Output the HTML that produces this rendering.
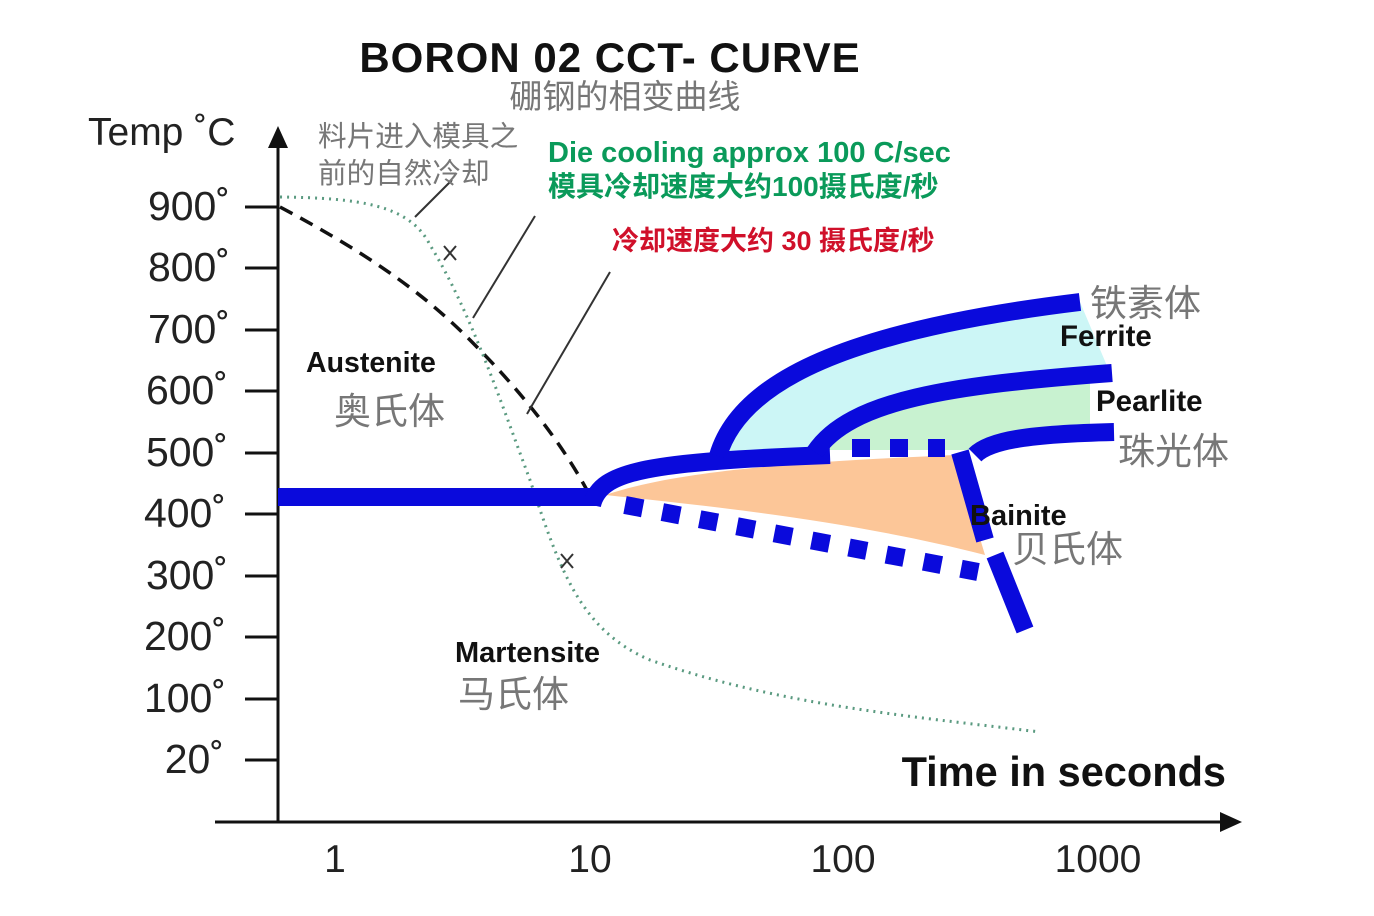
<!DOCTYPE html>
<html><head><meta charset="utf-8"><style>
html,body{margin:0;padding:0;background:#fff;}
svg{display:block;}
text{font-family:"Liberation Sans","Noto Sans CJK SC",sans-serif;}
</style></head><body>
<svg width="1374" height="916" viewBox="0 0 1374 916" xmlns="http://www.w3.org/2000/svg">
<rect width="1374" height="916" fill="#fff"/>
<text x="610" y="72" font-size="42" font-weight="bold" text-anchor="middle" fill="#111" letter-spacing="1">BORON 02 CCT- CURVE</text>
<text x="625" y="108" font-size="33" text-anchor="middle" fill="#777">硼钢的相变曲线</text>
<text x="88" y="145" font-size="39" fill="#222">Temp ˚C</text>
<path d="M725,452 C745,380 850,330 1080,302 L1110,373 C950,385 850,405 815,450 Z" fill="#ccf6f6"/>
<path d="M820,450 C860,405 950,388 1090,375 L1090,432 C1030,432 990,438 970,450 Z" fill="#c8f2d0"/>
<path d="M605,495 C680,470 800,462 955,455 L985,555 C850,520 700,505 605,495 Z" fill="#fcc698"/>
<g stroke="#111" stroke-width="3" fill="none">
<line x1="278" y1="140" x2="278" y2="822"/>
<line x1="215" y1="822" x2="1228" y2="822"/>
<line x1="245" y1="207" x2="278" y2="207"/><line x1="245" y1="268" x2="278" y2="268"/>
<line x1="245" y1="330" x2="278" y2="330"/><line x1="245" y1="391" x2="278" y2="391"/>
<line x1="245" y1="453" x2="278" y2="453"/><line x1="245" y1="514" x2="278" y2="514"/>
<line x1="245" y1="576" x2="278" y2="576"/><line x1="245" y1="637" x2="278" y2="637"/>
<line x1="245" y1="699" x2="278" y2="699"/><line x1="245" y1="760" x2="278" y2="760"/>
</g>
<polygon points="278,126 268,148 288,148" fill="#111"/>
<polygon points="1242,822 1220,812 1220,832" fill="#111"/>
<g font-size="41" fill="#222" text-anchor="end">
<text x="230" y="220">900˚</text><text x="230" y="281">800˚</text><text x="230" y="343">700˚</text>
<text x="228" y="404">600˚</text><text x="228" y="466">500˚</text><text x="226" y="527">400˚</text>
<text x="228" y="589">300˚</text><text x="226" y="650">200˚</text><text x="226" y="712">100˚</text>
<text x="224" y="773">20˚</text>
</g>
<g font-size="39" fill="#222" text-anchor="middle">
<text x="335" y="872">1</text><text x="590" y="872">10</text><text x="843" y="872">100</text><text x="1098" y="872">1000</text>
</g>
<text x="1226" y="786" font-size="41.5" font-weight="bold" text-anchor="end" fill="#111">Time in seconds</text>
<path d="M280,207 C380,260 430,300 470,340 C520,390 560,440 588,492" stroke="#111" stroke-width="3.5" stroke-dasharray="14,9" fill="none"/>
<path d="M280,197 C360,198 410,205 430,245 C470,310 500,400 530,480 C560,570 580,630 650,660 C780,705 900,715 1040,732" stroke="#5a9a80" stroke-width="3" stroke-dasharray="2,5" fill="none"/>
<g stroke="#333" stroke-width="2" fill="none">
<path d="M444,246 l12,14 M456,246 l-12,14"/>
<path d="M561,554 l12,14 M573,554 l-12,14"/>
<line x1="415" y1="217" x2="452" y2="180"/>
<line x1="473" y1="318" x2="535" y2="216"/>
<line x1="527" y1="414" x2="610" y2="272"/>
</g>
<g stroke="#0a0adc" stroke-width="18" fill="none">
<line x1="278" y1="497" x2="598" y2="497"/>
<path d="M592,505 C600,470 650,462 830,455"/>
<path d="M718,456 C740,380 850,330 1080,302"/>
<path d="M815,452 C850,400 950,385 1112,373"/>
<path d="M975,455 C990,440 1030,434 1114,432"/>
<path d="M960,452 L985,540 M995,555 L1025,630"/>
<path d="M852,448 H945" stroke-dasharray="18,20"/>
<path d="M625,505 L978,572" stroke-dasharray="18,20"/>
</g>
<g font-weight="bold" fill="#111">
<text x="306" y="372" font-size="28.5">Austenite</text>
<text x="455" y="662" font-size="29">Martensite</text>
<text x="1060" y="346" font-size="29.5">Ferrite</text>
<text x="1096" y="411" font-size="29.5">Pearlite</text>
<text x="970" y="525" font-size="29">Bainite</text>
</g>
<g font-size="37" fill="#777">
<text x="334" y="424">奥氏体</text>
<text x="458" y="707">马氏体</text>
<text x="1090" y="316">铁素体</text>
<text x="1118" y="464">珠光体</text>
<text x="1012" y="562">贝氏体</text>
</g>
<g font-size="28.6" fill="#777">
<text x="318" y="146">料片进入模具之</text>
<text x="318" y="183">前的自然冷却</text>
</g>
<text x="548" y="162" font-size="29" font-weight="bold" fill="#0a9a5a">Die cooling approx 100 C/sec</text>
<text x="548" y="196" font-size="28" font-weight="bold" fill="#0a9a5a">模具冷却速度大约100摄氏度/秒</text>
<text x="612" y="250" font-size="27" font-weight="bold" fill="#d0102a">冷却速度大约 30 摄氏度/秒</text>
</svg>
</body></html>
